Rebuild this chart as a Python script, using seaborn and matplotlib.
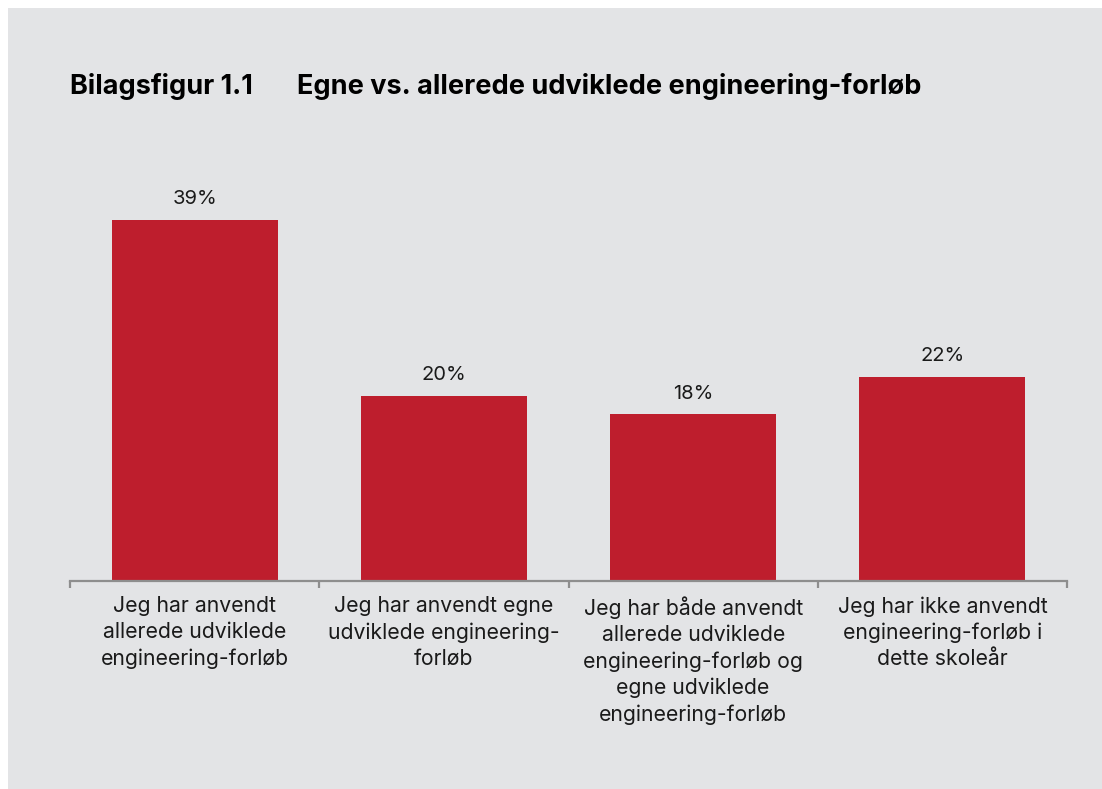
import matplotlib
matplotlib.use("Agg")
import matplotlib.pyplot as plt
import seaborn as sns
import pandas as pd
from matplotlib.patches import Rectangle

categories = [
    "Jeg har anvendt\nallerede udviklede\nengineering-forløb",
    "Jeg har anvendt egne\nudviklede engineering-\nforløb",
    "Jeg har både anvendt\nallerede udviklede\nengineering-forløb og\negne udviklede\nengineering-forløb",
    "Jeg har ikke anvendt\nengineering-forløb i\ndette skoleår",
]
values = [39, 20, 18, 22]
value_labels = ["39%", "20%", "18%", "22%"]

title_number = "Bilagsfigur 1.1"
title_text = "Egne vs. allerede udviklede engineering-forløb"

BG = "#E3E4E6"
BAR = "#BE1E2D"
AXIS = "#8E8E8E"
TEXT = "#1A1A1A"

sns.set_theme(style="white")
plt.rcParams["font.family"] = ["Inter", "DejaVu Sans"]

W, H = 1102, 789
fig = plt.figure(figsize=(W / 100, H / 100), dpi=100, facecolor="white")

# grey panel behind the chart
fig.patches.append(Rectangle((8 / W, 0), 1 - 8 / W, 1 - 8 / H,
                             transform=fig.transFigure, facecolor=BG,
                             edgecolor="none", zorder=-10))

ax_left, ax_right = 70 / W, 1067 / W
ax_bottom, ax_top = (H - 581) / H, (H - 150) / H
ax = fig.add_axes([ax_left, ax_bottom, ax_right - ax_left, ax_top - ax_bottom])
ax.set_facecolor("none")
ax.set_zorder(5)

df = pd.DataFrame({"kategori": categories, "andel": values})
sns.barplot(data=df, x="kategori", y="andel", color=BAR, saturation=1,
            width=0.667, ax=ax, edgecolor="none")

ax.set_ylim(0, 431 / 9.26)
ax.set_xlim(-0.5, len(categories) - 0.5)

for bar, lab in zip(ax.patches, value_labels):
    ax.annotate(lab, (bar.get_x() + bar.get_width() / 2, bar.get_height()),
                xytext=(0, 8.5), textcoords="offset points",
                ha="center", va="bottom", fontsize=14.5, color=TEXT)

# axis with boundary ticks between categories
for s in ["top", "right", "left"]:
    ax.spines[s].set_visible(False)
ax.spines["bottom"].set_color(AXIS)
ax.spines["bottom"].set_linewidth(1.6)
ax.set_yticks([])
ax.set_ylabel("")
ax.set_xlabel("")
ax.set_xticks([i + 0.5 for i in range(-1, len(categories))], minor=False)
ax.set_xticklabels([])
ax.tick_params(axis="x", which="major", length=5, width=1.6, color=AXIS,
               direction="out", bottom=True)
ax.set_xticks(range(len(categories)), minor=True)
ax.set_xticklabels(categories, minor=True, fontsize=15.25, color=TEXT,
                   linespacing=1.37)
ax.tick_params(axis="x", which="minor", length=0, pad=11)

fig.text(70 / W, 1 - 86 / H, title_number, fontsize=19.5, fontweight="bold",
         color="black", va="center", ha="left")
fig.text(297 / W, 1 - 86 / H, title_text, fontsize=19.5, fontweight="bold",
         color="black", va="center", ha="left")

fig.savefig("out.png", dpi=100, facecolor="white")
